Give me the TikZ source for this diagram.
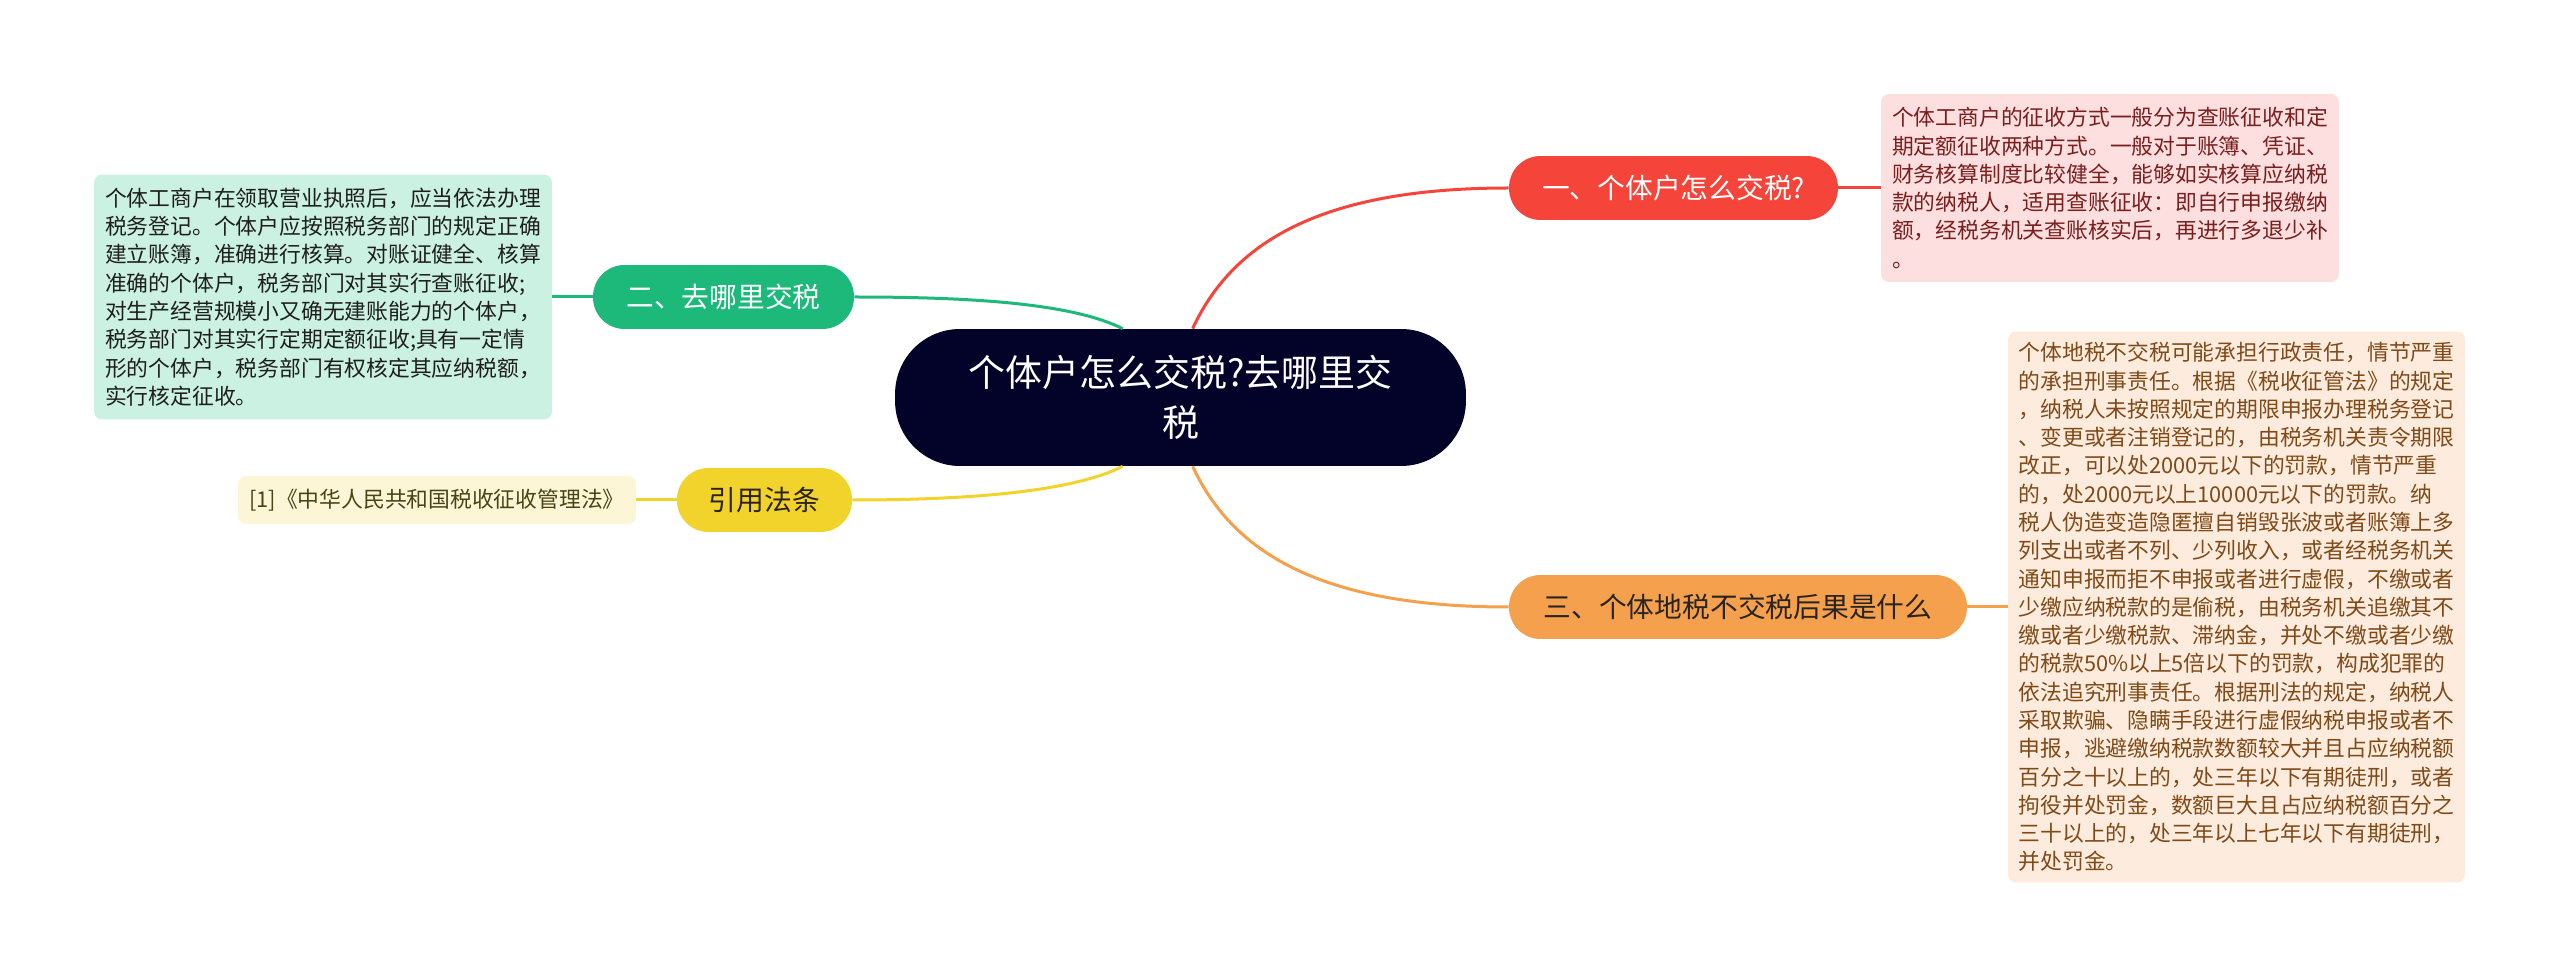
\documentclass[tikz,border=0pt]{standalone}
\usepackage{fontspec}
\setmainfont{Noto Sans CJK SC}

\definecolor{rootnavy}{HTML}{03032A}
\definecolor{redmain}{HTML}{F5453B}
\definecolor{redleaf}{HTML}{FDDFDF}
\definecolor{redtext}{HTML}{7A1E1E}
\definecolor{greenmain}{HTML}{1CB97B}
\definecolor{greenleaf}{HTML}{CBF1E2}
\definecolor{greentext}{HTML}{1E1E1E}
\definecolor{yellowmain}{HTML}{F2D32C}
\definecolor{yellowleaf}{HTML}{FDF6D6}
\definecolor{yellowtext}{HTML}{4A4316}
\definecolor{orangemain}{HTML}{F5A04C}
\definecolor{orangeleaf}{HTML}{FDECDD}
\definecolor{orangetext}{HTML}{7F4A18}
\definecolor{darktext}{HTML}{2A2420}

\begin{document}
\begin{tikzpicture}[
    x=0.02cm, y=-0.02cm,
    root/.style={fill=rootnavy, text=white, rounded corners=1.3cm, minimum width=11.42cm, minimum height=2.74cm, inner sep=0pt, align=center, font=\fontsize{21}{28.5}\selectfont},
    branch/.style={rounded corners=0.63cm, minimum height=1.28cm, inner sep=0pt, font=\fontsize{15.8}{19}\selectfont},
    leaf/.style={rounded corners=0.16cm, inner sep=0pt, align=left, font=\fontsize{12.4}{16.1}\selectfont},
    link/.style={line width=0.06cm}
]
\fill[white] (0, 0) rectangle (2560, 979);

% Root
\node[root] (root) at (1180.5, 397.5) {个体户怎么交税?去哪里交\\税};

% Branches
\node[branch, fill=redmain, text=white, minimum width=6.58cm] (how) at (1673.5, 188) {一、个体户怎么交税?};
\node[branch, fill=greenmain, text=white, minimum width=5.22cm] (where) at (723.5, 297) {二、去哪里交税};
\node[branch, fill=yellowmain, text=darktext, minimum width=3.5cm] (law) at (764.5, 500) {引用法条};
\node[branch, fill=orangemain, text=darktext, minimum width=9.16cm] (risk) at (1738, 607) {三、个体地税不交税后果是什么};

% Detail boxes
\node[leaf, fill=redleaf, text=redtext, minimum width=9.16cm, minimum height=3.76cm] (howtxt) at (2110, 188) {个体工商户的征收方式一般分为查账征收和定\\期定额征收两种方式。一般对于账簿、凭证、\\财务核算制度比较健全，能够如实核算应纳税\\款的纳税人，适用查账征收：即自行申报缴纳\\额，经税务机关查账核实后，再进行多退少补\\。};
\node[leaf, fill=greenleaf, text=greentext, minimum width=9.16cm, minimum height=4.9cm] (wheretxt) at (323, 297) {个体工商户在领取营业执照后，应当依法办理\\税务登记。个体户应按照税务部门的规定正确\\建立账簿，准确进行核算。对账证健全、核算\\准确的个体户，税务部门对其实行查账征收;\\对生产经营规模小又确无建账能力的个体户，\\税务部门对其实行定期定额征收;具有一定情\\形的个体户，税务部门有权核定其应纳税额，\\实行核定征收。};
\node[leaf, fill=yellowleaf, text=yellowtext, minimum width=7.96cm, minimum height=0.96cm] (lawtxt) at (437, 500) {[1]《中华人民共和国税收征收管理法》};
\node[leaf, fill=orangeleaf, text=orangetext, minimum width=9.14cm, minimum height=11.02cm] (risktxt) at (2236.5, 607) {个体地税不交税可能承担行政责任，情节严重\\的承担刑事责任。根据《税收征管法》的规定\\，纳税人未按照规定的期限申报办理税务登记\\、变更或者注销登记的，由税务机关责令期限\\改正，可以处2000元以下的罚款，情节严重\\的，处2000元以上10000元以下的罚款。纳\\税人伪造变造隐匿擅自销毁张波或者账簿上多\\列支出或者不列、少列收入，或者经税务机关\\通知申报而拒不申报或者进行虚假，不缴或者\\少缴应纳税款的是偷税，由税务机关追缴其不\\缴或者少缴税款、滞纳金，并处不缴或者少缴\\的税款50\%以上5倍以下的罚款，构成犯罪的\\依法追究刑事责任。根据刑法的规定，纳税人\\采取欺骗、隐瞒手段进行虚假纳税申报或者不\\申报，逃避缴纳税款数额较大并且占应纳税额\\百分之十以上的，处三年以下有期徒刑，或者\\拘役并处罚金，数额巨大且占应纳税额百分之\\三十以上的，处三年以上七年以下有期徒刑，\\并处罚金。};

% Connectors
\draw[link, redmain] (root.80) .. controls +(42, -91) and +(-180, 0) .. (how.west);
\draw[link, greenmain] (root.130) .. controls +(-50, -25) and +(120, 0) .. (where.east);
\draw[link, yellowmain] (root.-130) .. controls +(-50, 25) and +(120, 0) .. (law.east);
\draw[link, orangemain] (root.-80) .. controls +(42, 91) and +(-180, 0) .. (risk.west);
\draw[link, redmain] (how.east) -- (howtxt.west);
\draw[link, greenmain] (where.west) -- (wheretxt.east);
\draw[link, yellowmain] (law.west) -- (lawtxt.east);
\draw[link, orangemain] (risk.east) -- (risktxt.west);
\end{tikzpicture}
\end{document}
